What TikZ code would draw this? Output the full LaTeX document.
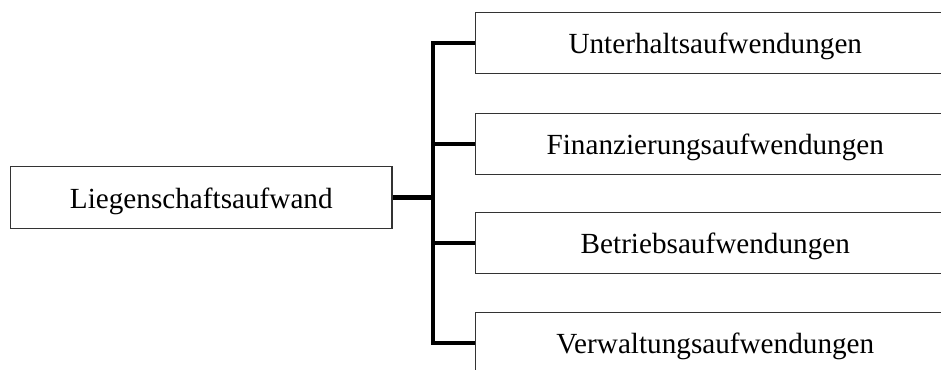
\documentclass[tikz,border=0pt]{standalone}
\usepackage{fontspec}
\setmainfont{Liberation Serif}
\begin{document}
\begin{tikzpicture}[x=1pt,y=1pt,
  box/.style={draw=black!80, line width=1.2pt, fill=white, rectangle, inner sep=0pt,
    text height=27pt, text depth=6pt,
    font=\fontsize{29.2}{35}\selectfont},
  leftbox/.style={box, minimum width=381.3pt, minimum height=61.6pt},
  rightbox/.style={box, minimum width=479.3pt, minimum height=61pt},
  conn/.style={line width=4.2pt, line join=miter}]
\clip (0,0) rectangle (941,-369);
\fill[white] (0,0) rectangle (941,-369);
\node[leftbox] (L) at (201.3,-197.5) {Liegenschaftsaufwand};
\node[rightbox] (R1) at (715.3,-42.8) {Unterhaltsaufwendungen};
\node[rightbox] (R2) at (715.3,-143.8) {Finanzierungsaufwendungen};
\node[rightbox] (R3) at (715.3,-243.2) {Betriebsaufwendungen};
\node[rightbox] (R4) at (715.3,-343.3) {Verwaltungsaufwendungen};
\coordinate (T) at (433,-42.8);
\coordinate (B) at (433,-343.3);
\draw[conn] (R1.west) -- (T) -- (B) -- (R4.west);
\draw[conn] (L.east) -- (L.east -| T);
\draw[conn] (R2.west -| T) -- (R2.west);
\draw[conn] (R3.west -| T) -- (R3.west);
\end{tikzpicture}
\end{document}
